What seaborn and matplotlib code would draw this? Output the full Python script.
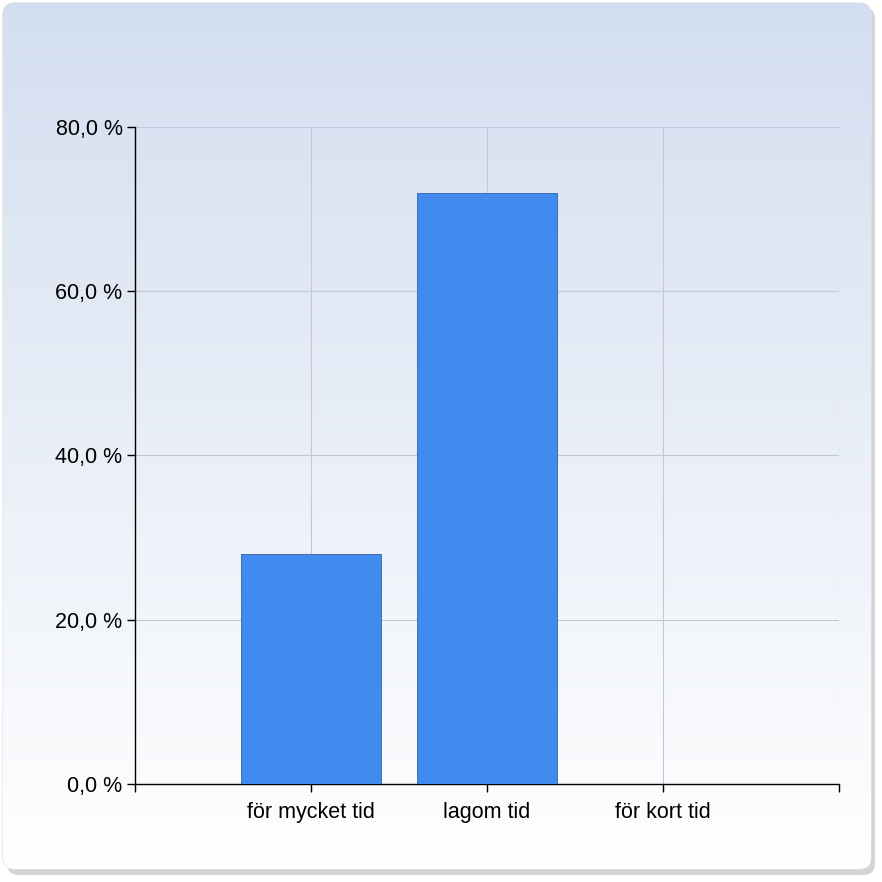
import numpy as np
import pandas as pd
import matplotlib
matplotlib.use("Agg")
import matplotlib.pyplot as plt
from matplotlib.patches import FancyBboxPatch
import seaborn as sns

# Data
categories = ["för mycket tid", "lagom tid", "för kort tid"]
values = [28.0, 72.0, 0.0]
yticks = [0, 20, 40, 60, 80]

df = pd.DataFrame({"category": categories, "percent": values})

sns.set_theme(style="white")
plt.rcParams["font.family"] = ["Liberation Sans", "DejaVu Sans"]

fig = plt.figure(figsize=(8.82, 8.82), dpi=100)
fig.patch.set_facecolor("white")

# background panel: shadow + gradient inside a rounded box
bg = fig.add_axes([0, 0, 1, 1])
bg.set_xlim(0, 882)
bg.set_ylim(882, 0)
bg.axis("off")
shadow = FancyBboxPatch((7, 7), 868, 868, boxstyle="round,pad=0,rounding_size=12",
                        facecolor="#b8b8b8", edgecolor="none", alpha=0.6)
bg.add_patch(shadow)
box = FancyBboxPatch((3, 3), 868, 866, boxstyle="round,pad=0,rounding_size=12",
                     facecolor="none", edgecolor="#e2e2e2", linewidth=1)
bg.add_patch(box)
grad = np.linspace(0, 1, 256).reshape(-1, 1)
top = np.array([0.827, 0.871, 0.941])
bottom = np.array([1.0, 1.0, 1.0])
img = top + (bottom - top) * grad[..., None]
im = bg.imshow(img, extent=[3, 871, 869, 3], aspect="auto", zorder=1)
im.set_clip_path(box)

ax = fig.add_axes([135 / 882, 1 - 784 / 882, 704 / 882, 657 / 882])
ax.patch.set_alpha(0)

sns.barplot(data=df, x="category", y="percent", ax=ax, color="#418bef",
            width=0.8, edgecolor="#3563a8", linewidth=0.6, saturation=1, zorder=3)

ax.set_xlim(-1, 3)
ax.set_ylim(0, 80)
ax.set_xticks([-1, 0, 1, 2, 3])
ax.set_xticklabels([""] + categories + [""])
ax.set_yticks(yticks)
ax.set_yticklabels([f"{v:.1f}".replace(".", ",") + " %" for v in yticks])
ax.set_xlabel("")
ax.set_ylabel("")

for v in yticks[1:]:
    ax.axhline(v, color="#c3c8d2", linewidth=0.8, zorder=1)
for x in [0, 1, 2, 3]:
    ax.axvline(x, color="#c3c8d2", linewidth=0.8, zorder=1)

for side in ["top", "right"]:
    ax.spines[side].set_visible(False)
for side in ["left", "bottom"]:
    ax.spines[side].set_color("black")
    ax.spines[side].set_linewidth(1)

ax.tick_params(axis="both", which="both", direction="out", length=6, width=1,
               color="black", labelsize=15.5, labelcolor="black", pad=3)
ax.tick_params(axis="x", pad=7)
ax.tick_params(left=True, bottom=True)

fig.savefig("out.png", dpi=100)
